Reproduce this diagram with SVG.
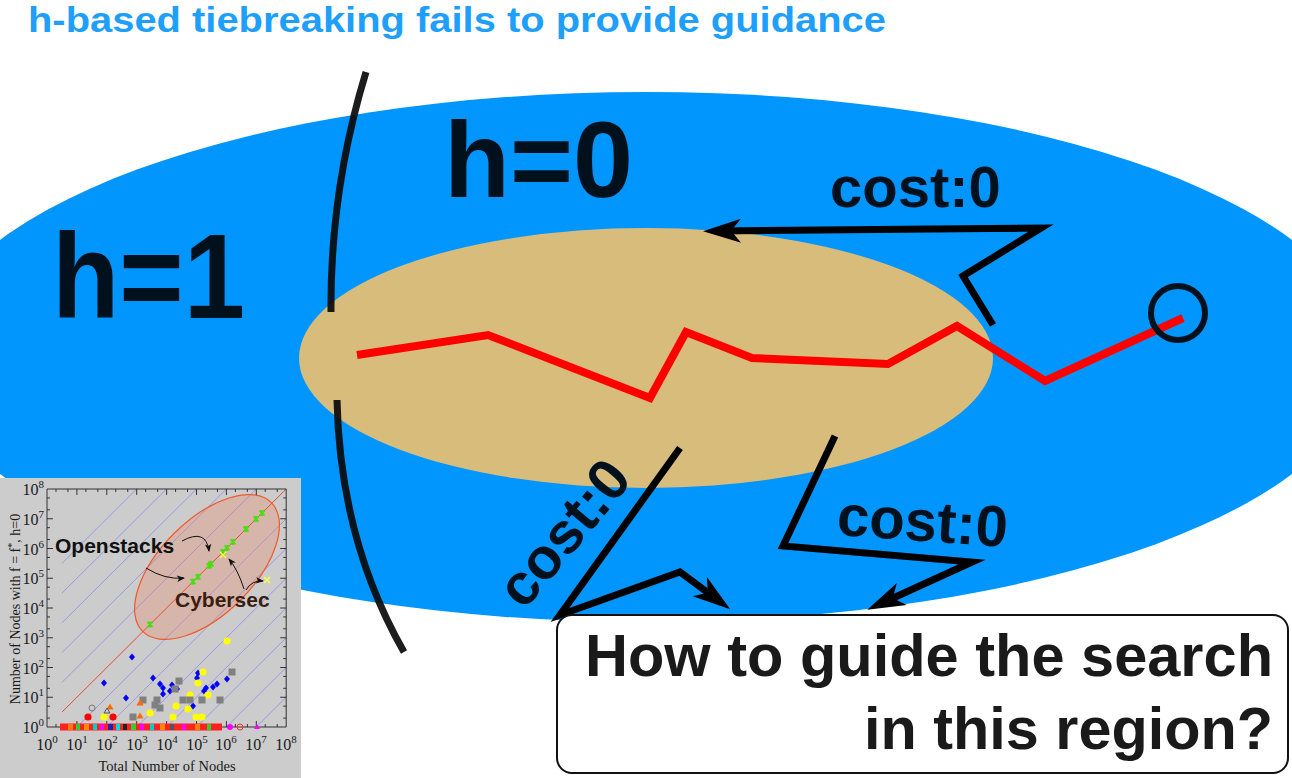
<svg xmlns="http://www.w3.org/2000/svg" width="1292" height="778" viewBox="0 0 1292 778">
<defs>
<style>
.big{font-family:"Liberation Sans",Arial,sans-serif;font-weight:bold;fill:#00111e}
.cost{font-family:"Liberation Sans",Arial,sans-serif;font-weight:bold;font-size:58px;fill:#00111e}
.conn{fill:none;stroke:#000;stroke-width:7;stroke-linejoin:miter;stroke-miterlimit:10}
.arc{fill:none;stroke:#0a0a0a;stroke-width:7;stroke-opacity:0.92}
.ser{font-family:"Liberation Serif","Times New Roman",serif;fill:#1a1a1a}
.tk{font-family:"Liberation Serif","Times New Roman",serif;fill:#1a1a1a;font-size:16px}
.lbl{font-family:"Liberation Sans",Arial,sans-serif;font-weight:bold;font-size:21px}
.q{font-family:"Liberation Sans",Arial,sans-serif;font-weight:bold;font-size:60px;fill:#1a1a1a}
.ia{fill:none;stroke:#111;stroke-width:1}
.ns{vector-effect:non-scaling-stroke;fill:none}
</style>
<marker id="ah" markerUnits="userSpaceOnUse" viewBox="-26 -14 42 28" markerWidth="42" markerHeight="28" refX="0" refY="0" orient="auto">
<path d="M14,0 L-24,-12 L-14,0 L-24,12 Z" fill="#000"/>
</marker>
<marker id="sa" markerUnits="userSpaceOnUse" viewBox="-9 -5 11 10" markerWidth="11" markerHeight="10" refX="0" refY="0" orient="auto">
<path d="M1,0 L-7,-3.2 L-5,0 L-7,3.2 Z" fill="#111"/>
</marker>
<path id="dia" d="M0,-3.6L3,0L0,3.6L-3,0Z" fill="#0000ff"/>
<circle id="yc" r="3.6" fill="#ffff00"/>
<rect id="gs" x="-3.5" y="-3.5" width="7" height="7" fill="#808080"/>
<circle id="rc" r="3.6" fill="#ff0000"/>
<path id="ot" d="M0,-3.5L3.6,2.5L-3.6,2.5Z" fill="#ff6a00"/>
<path id="gx" d="M-2.5,-2.5L2.5,2.5M-2.5,2.5L2.5,-2.5M0,-3V3" stroke="#4ddc14" stroke-width="1.8"/>
<path id="yx" d="M-3,-3L3,3M-3,3L3,-3" stroke="#ffff40" stroke-width="1.4"/>
</defs>

<g id="regions">
<ellipse id="h1-region" cx="646" cy="357" rx="720" ry="265" fill="#0096fe"/>
<ellipse id="h0-region" cx="646" cy="358" rx="347" ry="130" fill="#d8bc7c"/>
</g>

<g id="boundary">
<path class="arc" d="M366,72 Q330,190 331,312"/>
<path class="arc" d="M337,400 Q340,540 404,652"/>
</g>

<g id="solution-path">
<polyline points="357,355 488,335 650,398 686,332 752,358 888,364 957,326 1045,381 1183,318" fill="none" stroke="#ff0000" stroke-width="8"/>
</g>

<g id="goal">
<circle cx="1178" cy="313" r="27" fill="none" stroke="#00111e" stroke-width="6"/>
</g>

<g id="connectors">
<polyline class="conn" points="993,325 963,276 1041,228 717,231" marker-end="url(#ah)"/>
<polyline class="conn" points="680,448 560,615 680,572 719,601" marker-end="url(#ah)"/>
<polyline class="conn" points="835,436 783,546 972,562 880,604" marker-end="url(#ah)"/>
</g>

<g id="labels">
<text x="28" y="32" font-family="Liberation Sans, Arial, sans-serif" font-weight="bold" font-size="35" fill="#1f9ffc" textLength="858" lengthAdjust="spacingAndGlyphs">h-based tiebreaking fails to provide guidance</text>
<text class="big" x="444" y="197" font-size="108">h=0</text>
<text class="big" x="52" y="318" font-size="120" textLength="193" lengthAdjust="spacingAndGlyphs">h=1</text>
<text class="cost" x="830" y="207">cost:0</text>
<text class="cost" transform="translate(836,535) rotate(4)">cost:0</text>
<text class="cost" transform="translate(524,611) rotate(-50)">cost:0</text>
</g>

<g id="inset">
<rect x="0" y="478" width="301" height="300" fill="#cccccc"/>
<g transform="matrix(29.9 0 0 -29.75 47 727)">
<path class="ns" stroke="#8a8af0" stroke-width="0.8" d="M.5,1.5L7,8M.5,2.5L6,8M.5,3.5L5,8M.5,4.5L4,8M.5,5.5L3,8M1,0L8,7M2,0L8,6M3,0L8,5M4,0L8,4M5,0L8,3M6,0L8,2M7,0L8,1"/>
</g>
<ellipse cx="207" cy="567" rx="91" ry="47" transform="rotate(-45 207 567)" fill="#f08060" fill-opacity="0.3" stroke="#f05a28" stroke-width="1.2"/>
<g transform="matrix(29.9 0 0 -29.75 47 727)">
<path class="ns" stroke="#e84a3a" stroke-width="1" d="M.5,.5L8,8"/>
<path class="ns" stroke="#333" stroke-width="1" d="M0,0H8V8H0Z
M1,0V.2M2,0V.2M3,0V.2M4,0V.2M5,0V.2M6,0V.2M7,0V.2
M1,8V7.8M2,8V7.8M3,8V7.8M4,8V7.8M5,8V7.8M6,8V7.8M7,8V7.8
M0,1H.2M0,2H.2M0,3H.2M0,4H.2M0,5H.2M0,6H.2M0,7H.2
M8,1H7.8M8,2H7.8M8,3H7.8M8,4H7.8M8,5H7.8M8,6H7.8M8,7H7.8
M.3,0V.1M.7,0V.1M1.3,0V.1M1.7,0V.1M2.3,0V.1M2.7,0V.1M3.3,0V.1M3.7,0V.1M4.3,0V.1M4.7,0V.1M5.3,0V.1M5.7,0V.1M6.3,0V.1M6.7,0V.1M7.3,0V.1M7.7,0V.1
M.3,8V7.9M.7,8V7.9M1.3,8V7.9M1.7,8V7.9M2.3,8V7.9M2.7,8V7.9M3.3,8V7.9M3.7,8V7.9M4.3,8V7.9M4.7,8V7.9M5.3,8V7.9M5.7,8V7.9M6.3,8V7.9M6.7,8V7.9M7.3,8V7.9M7.7,8V7.9
M0,.3H.1M0,.7H.1M0,1.3H.1M0,1.7H.1M0,2.3H.1M0,2.7H.1M0,3.3H.1M0,3.7H.1M0,4.3H.1M0,4.7H.1M0,5.3H.1M0,5.7H.1M0,6.3H.1M0,6.7H.1M0,7.3H.1M0,7.7H.1
M8,.3H7.9M8,.7H7.9M8,1.3H7.9M8,1.7H7.9M8,2.3H7.9M8,2.7H7.9M8,3.3H7.9M8,3.7H7.9M8,4.3H7.9M8,4.7H7.9M8,5.3H7.9M8,5.7H7.9M8,6.3H7.9M8,6.7H7.9M8,7.3H7.9M8,7.7H7.9"/>
</g>
<g class="tk" text-anchor="end">
<text x="44" y="733">10<tspan dy="-7" font-size="11">0</tspan></text>
<text x="44" y="703">10<tspan dy="-7" font-size="11">1</tspan></text>
<text x="44" y="674">10<tspan dy="-7" font-size="11">2</tspan></text>
<text x="44" y="644">10<tspan dy="-7" font-size="11">3</tspan></text>
<text x="44" y="614">10<tspan dy="-7" font-size="11">4</tspan></text>
<text x="44" y="584">10<tspan dy="-7" font-size="11">5</tspan></text>
<text x="44" y="555">10<tspan dy="-7" font-size="11">6</tspan></text>
<text x="44" y="525">10<tspan dy="-7" font-size="11">7</tspan></text>
<text x="44" y="495">10<tspan dy="-7" font-size="11">8</tspan></text>
</g>
<g class="tk" text-anchor="middle">
<text x="47" y="750">10<tspan dy="-7" font-size="11">0</tspan></text>
<text x="77" y="750">10<tspan dy="-7" font-size="11">1</tspan></text>
<text x="107" y="750">10<tspan dy="-7" font-size="11">2</tspan></text>
<text x="137" y="750">10<tspan dy="-7" font-size="11">3</tspan></text>
<text x="167" y="750">10<tspan dy="-7" font-size="11">4</tspan></text>
<text x="197" y="750">10<tspan dy="-7" font-size="11">5</tspan></text>
<text x="226" y="750">10<tspan dy="-7" font-size="11">6</tspan></text>
<text x="256" y="750">10<tspan dy="-7" font-size="11">7</tspan></text>
<text x="286" y="750">10<tspan dy="-7" font-size="11">8</tspan></text>
</g>
<text class="ser" font-size="14.5" x="167" y="771" text-anchor="middle">Total Number of Nodes</text>
<text class="ser" font-size="14" text-anchor="middle" transform="translate(20,609) rotate(-90)">Number of Nodes with f = f<tspan dy="-5" font-size="10">*</tspan><tspan dy="5">, h=0</tspan></text>

<rect x="60" y="723.5" width="162" height="7" fill="#ff2020"/>
<rect x="68" y="724" width="5" height="6" fill="#ff7a00"/>
<rect x="76" y="724" width="4" height="6" fill="#33cc33"/>
<rect x="84" y="724" width="5" height="6" fill="#ff8800"/>
<rect x="93" y="724" width="4" height="6" fill="#00cccc"/>
<rect x="100" y="724" width="4" height="6" fill="#ff00ff"/>
<rect x="108" y="724" width="5" height="6" fill="#2222aa"/>
<rect x="116" y="724" width="4" height="6" fill="#00dddd"/>
<rect x="123" y="724" width="4" height="6" fill="#222"/>
<rect x="131" y="724" width="5" height="6" fill="#33cc33"/>
<rect x="140" y="724" width="4" height="6" fill="#ff00ff"/>
<rect x="150" y="724" width="4" height="6" fill="#00cccc"/>
<rect x="160" y="724" width="5" height="6" fill="#ff8800"/>
<rect x="170" y="724" width="4" height="6" fill="#555"/>
<rect x="182" y="724" width="4" height="6" fill="#ff00ff"/>
<rect x="195" y="724" width="5" height="6" fill="#ff7a00"/>
<rect x="207" y="724" width="4" height="6" fill="#33cc33"/>
<circle cx="230" cy="727" r="3" fill="#ff00ff"/>
<circle cx="240" cy="727" r="3" fill="none" stroke="#ff3030" stroke-width="1"/>
<path d="M257,724L260,729H254Z" fill="#ff00ff"/>

<use href="#dia" x="132" y="657"/><use href="#dia" x="104" y="683"/><use href="#dia" x="126" y="698"/>
<use href="#dia" x="153" y="678"/><use href="#dia" x="160" y="684"/><use href="#dia" x="163" y="688"/>
<use href="#dia" x="172" y="685"/><use href="#dia" x="177" y="689"/><use href="#dia" x="170" y="691"/>
<use href="#dia" x="163" y="694"/><use href="#dia" x="197" y="678"/><use href="#dia" x="198" y="673"/>
<use href="#dia" x="204" y="691"/><use href="#dia" x="206" y="688"/><use href="#dia" x="213" y="687"/>
<use href="#dia" x="217" y="684"/><use href="#dia" x="227" y="679"/><use href="#dia" x="193" y="706"/>
<use href="#yc" x="227" y="641"/><use href="#yc" x="203" y="672"/><use href="#yc" x="198" y="683"/>
<use href="#yc" x="190" y="695"/><use href="#yc" x="208" y="695"/><use href="#yc" x="176" y="706"/>
<use href="#yc" x="188" y="709"/><use href="#yc" x="150" y="713"/><use href="#yc" x="173" y="717"/>
<use href="#yc" x="196" y="717"/><use href="#yc" x="202" y="717"/><use href="#yc" x="104" y="717"/>
<use href="#gs" x="232" y="672"/><use href="#gs" x="179" y="681"/><use href="#gs" x="175" y="689"/>
<use href="#gs" x="183" y="700"/><use href="#gs" x="190" y="700"/><use href="#gs" x="202" y="700"/>
<use href="#gs" x="220" y="700"/><use href="#gs" x="157" y="700"/><use href="#gs" x="155" y="705"/>
<use href="#gs" x="160" y="708"/><use href="#gs" x="143" y="700"/><use href="#gs" x="133" y="717"/>
<use href="#rc" x="88" y="717"/><use href="#rc" x="113" y="717"/>
<use href="#ot" x="110" y="707"/><use href="#ot" x="140" y="703"/><use href="#ot" x="140" y="716"/>
<path d="M107,708L110,713H104Z" fill="none" stroke="#555" stroke-width="1"/>
<circle cx="92" cy="708" r="3" fill="none" stroke="#777" stroke-width="1"/>

<use href="#gx" x="150" y="624.5"/><use href="#gx" x="193" y="581.7"/><use href="#gx" x="198" y="576.8"/>
<use href="#gx" x="209" y="565.8"/><use href="#gx" x="211" y="563.8"/><use href="#gx" x="223" y="551.9"/>
<use href="#gx" x="227" y="547.9"/><use href="#gx" x="233" y="541.9"/><use href="#gx" x="246" y="529"/>
<use href="#gx" x="256" y="519"/><use href="#gx" x="262" y="513"/>
<use href="#yx" x="267" y="580"/><use href="#yx" x="223" y="555"/>

<path class="ia" d="M182,541 Q206,528 209,551" marker-end="url(#sa)"/>
<path class="ia" d="M146,568 Q165,580 184,578" marker-end="url(#sa)"/>
<path class="ia" d="M244,589 Q238,570 229,559" marker-end="url(#sa)"/>
<path class="ia" d="M246,590 Q252,580 263,581" marker-end="url(#sa)"/>
<text class="lbl" x="55" y="553" fill="#111">Openstacks</text>
<text class="lbl" x="175" y="607" fill="#3b1d0e">Cybersec</text>
</g>

<g id="question">
<rect x="557" y="615" width="731" height="158" rx="15" fill="#fff" stroke="#111" stroke-width="2"/>
<text class="q" x="1273" y="676" text-anchor="end" textLength="688" lengthAdjust="spacingAndGlyphs">How to guide the search</text>
<text class="q" x="1273" y="749" text-anchor="end" textLength="409" lengthAdjust="spacingAndGlyphs">in this region?</text>
</g>
</svg>
